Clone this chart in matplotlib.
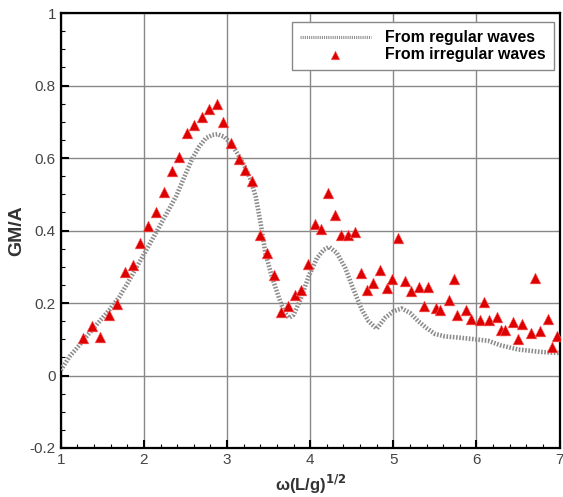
import matplotlib.pyplot as plt
from matplotlib.ticker import MultipleLocator

plt.rcParams['font.family'] = ['Liberation Sans', 'DejaVu Sans']

# regular waves (dotted curve)
reg_x = [1.0, 1.108, 1.228, 1.347, 1.467, 1.587, 1.707, 1.826, 1.986, 2.186, 2.386, 2.505,
         2.585, 2.665, 2.745, 2.824, 2.884, 2.964, 3.044, 3.123, 3.204, 3.284, 3.344,
         3.404, 3.463, 3.543, 3.623, 3.683, 3.743, 3.802, 3.882, 3.982, 4.081, 4.162,
         4.229, 4.321, 4.421, 4.521, 4.620, 4.701, 4.80, 4.90, 5.0, 5.099, 5.20, 5.299,
         5.399, 5.499, 5.619, 5.818, 6.018, 6.138, 6.297, 6.497, 6.776, 7.0]
reg_y = [0.015, 0.053, 0.085, 0.118, 0.150, 0.182, 0.218, 0.264, 0.329, 0.411, 0.494, 0.558,
         0.600, 0.632, 0.655, 0.664, 0.666, 0.659, 0.641, 0.613, 0.581, 0.540, 0.494,
         0.420, 0.335, 0.270, 0.215, 0.177, 0.159, 0.168, 0.209, 0.274, 0.324, 0.347,
         0.355, 0.338, 0.297, 0.237, 0.182, 0.150, 0.129, 0.159, 0.177, 0.185, 0.173, 0.150,
         0.131, 0.115, 0.108, 0.104, 0.099, 0.096, 0.083, 0.072, 0.065, 0.062]

# irregular waves (triangles)
irr_x = [1.267, 1.375, 1.475, 1.575, 1.675, 1.775, 1.866, 1.958, 2.054, 2.146, 2.245,
         2.333, 2.425, 2.513, 2.605, 2.697, 2.788, 2.876, 2.956, 3.048, 3.140, 3.219,
         3.303, 3.391, 3.483, 3.563, 3.643, 3.727, 3.811, 3.890, 3.974, 4.058, 4.134,
         4.213, 4.293, 4.369, 4.449, 4.533, 4.605, 4.689, 4.760, 4.841, 4.920, 4.988,
         5.060, 5.140, 5.207, 5.308, 5.363, 5.411, 5.515, 5.563, 5.667, 5.731, 5.770,
         5.878, 5.931, 6.039, 6.086, 6.146, 6.242, 6.290, 6.345, 6.441, 6.497, 6.545,
         6.656, 6.709, 6.764, 6.860, 6.908, 6.964]
irr_y = [0.104, 0.138, 0.105, 0.166, 0.197, 0.286, 0.306, 0.367, 0.412, 0.451, 0.506,
         0.565, 0.602, 0.668, 0.691, 0.713, 0.735, 0.749, 0.699, 0.641, 0.598, 0.566,
         0.536, 0.388, 0.338, 0.276, 0.175, 0.193, 0.223, 0.237, 0.309, 0.418, 0.403,
         0.503, 0.442, 0.388, 0.387, 0.396, 0.283, 0.237, 0.255, 0.292, 0.241, 0.267,
         0.379, 0.262, 0.232, 0.243, 0.193, 0.243, 0.185, 0.182, 0.209, 0.266, 0.168,
         0.182, 0.157, 0.154, 0.202, 0.154, 0.161, 0.125, 0.125, 0.148, 0.102, 0.143,
         0.118, 0.269, 0.124, 0.157, 0.078, 0.108]

fig = plt.figure(figsize=(5.63, 4.97), dpi=100)
ax = fig.add_axes([0.108, 0.0986, 0.886, 0.875])

ax.plot(reg_x, reg_y, color='#8c8c8c', lw=3.3, linestyle=(0, (0.35, 0.35)),
        label='From regular waves', zorder=3)
ax.scatter(irr_x, irr_y, marker='^', s=60, color='#dd0000', edgecolors='#ff6666',
           linewidths=0.4, label='From irregular waves', zorder=4)

ax.set_xlim(1, 7)
ax.set_ylim(-0.2, 1)
ax.xaxis.set_major_locator(MultipleLocator(1))
ax.xaxis.set_minor_locator(MultipleLocator(0.2))
ax.yaxis.set_minor_locator(MultipleLocator(0.05))
ax.set_yticks([-0.2, 0, 0.2, 0.4, 0.6, 0.8, 1])
ax.set_yticklabels(['-0.2', '0', '0.2', '0.4', '0.6', '0.8', '1'])
ax.tick_params(which='major', direction='in', length=6, width=1.5, labelsize=11,
               labelcolor='#444444', top=False, right=False)
ax.tick_params(which='minor', direction='in', length=3, width=0.8, top=False, right=False)
ax.grid(True, which='major', color='#888888', lw=1)
for s in ax.spines.values():
    s.set_linewidth(1.6)

ax.set_ylabel('GM/A', fontsize=14, fontweight='bold', color='#333333', labelpad=3)
ax.set_xlabel(r'ω(L/g)$^{\mathbf{1/2}}$', fontsize=12, fontweight='bold', color='#333333')

leg = ax.legend(loc='upper right', bbox_to_anchor=(0.988, 0.979), borderaxespad=0,
                prop={'weight': 'bold', 'size': 11.4}, fancybox=False, framealpha=1,
                edgecolor='#888888', handlelength=4.5, handletextpad=0.9,
                borderpad=0.5, labelspacing=0.1, markerscale=0.8)
leg.get_frame().set_linewidth(1)
leg.get_lines()[0].set_linewidth(2.2)

fig.savefig('out.png', dpi=100)
